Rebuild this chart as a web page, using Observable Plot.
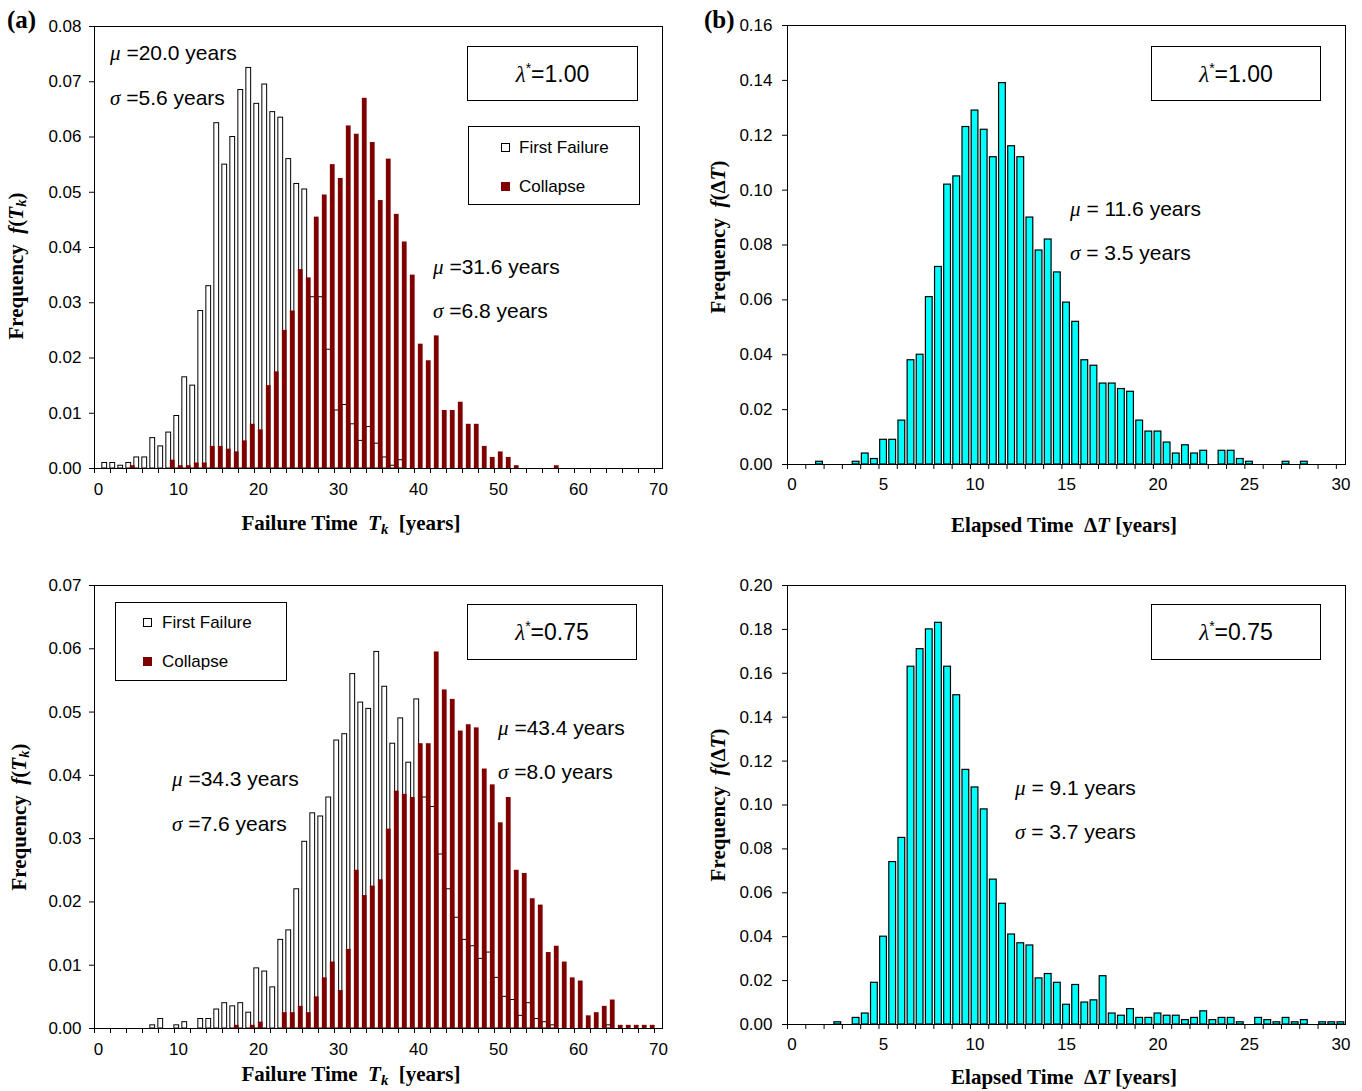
<!DOCTYPE html>
<html><head><meta charset="utf-8">
<script src="https://cdn.jsdelivr.net/npm/d3@7"></script>
<script src="https://cdn.jsdelivr.net/npm/@observablehq/plot@0.6"></script>
<style>
body{margin:0;background:#fff;}
#root{position:relative;width:1362px;height:1091px;overflow:hidden;font-family:'Liberation Sans',Arial,sans-serif;color:#000;background:#fff;}
.abs{position:absolute;white-space:nowrap;}
.title{font-family:'Liberation Serif','Times New Roman',serif;font-weight:bold;font-size:21px;line-height:21px;}
.ytitle{transform:translate(-50%,-50%) rotate(-90deg);}
.xtitle{transform:translateX(-50%);}
.box{position:absolute;border:1px solid #000;background:#fff;box-sizing:border-box;}
.lam{display:flex;align-items:center;justify-content:center;font-size:23px;}
.g{font-family:'Liberation Serif','Times New Roman',serif;font-style:italic;}
.ann{font-size:21px;line-height:21px;}
.leg{font-size:17px;line-height:17px;}
.mk{position:absolute;width:9px;height:9px;box-sizing:border-box;}
.plab{font-family:'Liberation Serif','Times New Roman',serif;font-weight:bold;font-size:25px;line-height:25px;}
sub{font-size:70%;vertical-align:-0.25em;}
</style></head>
<body><div id="root"></div>
<script>
// ---------- categories ----------
const yearCats = d3.range(0, 71);          // failure time categories 0..70 years
const dtCats = d3.range(0, 30.5, 0.5);     // elapsed time categories 0..30 years (0.5 bins)

// ---------- lambda* = 1.00 : failure time frequencies ----------
const firstFailure100 = [
  0, 0.001, 0.001, 0.0005, 0.001, 0.002, 0.002, 0.0055, 0.004, 0.0065,
  0.0095, 0.0165, 0.015, 0.0285, 0.033, 0.0625, 0.055, 0.06, 0.0685, 0.0725,
  0.066, 0.0695, 0.0645, 0.0635, 0.056, 0.0515, 0.0505, 0.031, 0.031, 0.0215,
  0.0105, 0.0115, 0.008, 0.005, 0.0075, 0.0045, 0.002, 0.0005, 0.0015, 0,
  0, 0, 0, 0, 0, 0, 0, 0, 0, 0,
  0, 0, 0, 0, 0, 0, 0, 0, 0, 0,
  0, 0, 0, 0, 0, 0, 0, 0, 0, 0, 0];
const collapse100 = [
  0, 0, 0, 0, 0.0005, 0, 0, 0, 0, 0.0015,
  0.0005, 0.0005, 0.001, 0.001, 0.004, 0.004, 0.0035, 0.003, 0.005, 0.008,
  0.007, 0.015, 0.0175, 0.025, 0.0285, 0.036, 0.0345, 0.0455, 0.0495, 0.055,
  0.0525, 0.062, 0.0605, 0.067, 0.059, 0.0485, 0.056, 0.046, 0.041, 0.035,
  0.0225, 0.0195, 0.024, 0.0105, 0.0105, 0.012, 0.008, 0.008, 0.004, 0.002,
  0.003, 0.002, 0.0005, 0, 0, 0, 0, 0.0005, 0, 0,
  0, 0, 0, 0, 0, 0, 0, 0, 0, 0, 0];

// ---------- lambda* = 0.75 : failure time frequencies ----------
const firstFailure075 = [
  0, 0, 0, 0, 0, 0, 0, 0.0005, 0.0015, 0,
  0.0005, 0.001, 0, 0.0015, 0.0015, 0.003, 0.004, 0.0035, 0.004, 0.0025,
  0.0095, 0.009, 0.0065, 0.014, 0.0155, 0.022, 0.0295, 0.034, 0.0335, 0.0365,
  0.0455, 0.0465, 0.056, 0.0515, 0.0505, 0.0595, 0.054, 0.045, 0.049, 0.042,
  0.052, 0.0365, 0.035, 0.0275, 0.022, 0.0175, 0.014, 0.013, 0.011, 0.012,
  0.008, 0.005, 0.0045, 0.002, 0.004, 0.0015, 0.001, 0.0005, 0, 0,
  0, 0, 0, 0, 0.0005, 0, 0, 0, 0, 0, 0];
const collapse075 = [
  0, 0, 0, 0, 0, 0, 0, 0, 0, 0,
  0, 0, 0, 0, 0, 0, 0, 0.0005, 0, 0.0005,
  0.001, 0, 0, 0.0025, 0.0025, 0.0035, 0.0025, 0.005, 0.008, 0.0105,
  0.006, 0.0125, 0.025, 0.021, 0.0225, 0.0235, 0.0315, 0.0375, 0.037, 0.0365,
  0.045, 0.045, 0.0595, 0.0535, 0.052, 0.047, 0.048, 0.0475, 0.041, 0.0385,
  0.0325, 0.0365, 0.025, 0.0245, 0.0205, 0.0195, 0.012, 0.013, 0.0105, 0.008,
  0.0075, 0.002, 0.0025, 0.0035, 0.0045, 0.0005, 0.0005, 0.0005, 0.0005, 0.0005, 0];

// ---------- elapsed time frequencies ----------
const elapsed100 = [
  0, 0, 0, 0.001, 0, 0, 0, 0.001, 0.004, 0.002,
  0.009, 0.009, 0.016, 0.038, 0.040, 0.061, 0.072, 0.102, 0.105, 0.123,
  0.129, 0.122, 0.112, 0.139, 0.116, 0.112, 0.090, 0.078, 0.082, 0.070,
  0.059, 0.052, 0.038, 0.036, 0.0295, 0.0295, 0.0275, 0.0265, 0.016, 0.012,
  0.012, 0.008, 0.004, 0.007, 0.004, 0.005, 0, 0.005, 0.005, 0.002,
  0.001, 0, 0, 0, 0.001, 0, 0.001, 0, 0, 0, 0];
const elapsed075 = [
  0, 0, 0, 0, 0, 0.001, 0, 0.003, 0.005, 0.019,
  0.040, 0.074, 0.085, 0.163, 0.171, 0.180, 0.183, 0.163, 0.150, 0.116,
  0.108, 0.098, 0.066, 0.055, 0.041, 0.037, 0.036, 0.021, 0.023, 0.019,
  0.009, 0.018, 0.010, 0.011, 0.022, 0.005, 0.004, 0.007, 0.003, 0.003,
  0.005, 0.004, 0.004, 0.002, 0.003, 0.006, 0.002, 0.003, 0.003, 0.001,
  0, 0.003, 0.002, 0.001, 0.003, 0.001, 0.002, 0, 0.001, 0.001, 0.001];

// ---------- axis ticks ----------
const yTicksA1 = [0, 0.01, 0.02, 0.03, 0.04, 0.05, 0.06, 0.07, 0.08];
const yTicksA2 = [0, 0.01, 0.02, 0.03, 0.04, 0.05, 0.06, 0.07];
const yTicksB1 = [0, 0.02, 0.04, 0.06, 0.08, 0.10, 0.12, 0.14, 0.16];
const yTicksB2 = [0, 0.02, 0.04, 0.06, 0.08, 0.10, 0.12, 0.14, 0.16, 0.18, 0.20];
const xLabelsA = [0, 10, 20, 30, 40, 50, 60, 70];
const xLabelsB = [0, 5, 10, 15, 20, 25, 30];

const root = document.getElementById("root");
const fmt2 = d3.format(".2f");
const plotStyle = {fontFamily: "'Liberation Sans', Arial, sans-serif", fontSize: "17px", color: "black", background: "transparent", overflow: "visible"};

function place(el, left, top) {
  el.style.position = "absolute";
  el.style.left = left + "px";
  el.style.top = top + "px";
  root.appendChild(el);
}

function failurePanel({ff, co, yDomain, yTicks, left, top, width, height, mt, mb}) {
  const ffData = yearCats.map((k, i) => ({k, v: ff[i]})).filter(d => d.v > 0);
  const coData = yearCats.map((k, i) => ({k, v: co[i]})).filter(d => d.v > 0);
  // minor ticks at every second category boundary
  const minor = yearCats.filter(k => k % 2 === 0).map(k => k - 0.5);
  const svg = Plot.plot({
    width, height, marginLeft: 94, marginRight: 18, marginTop: mt, marginBottom: mb,
    x: {domain: [-0.5, 70.5]},
    y: {domain: yDomain},
    style: plotStyle,
    marks: [
      Plot.rect(ffData, {x1: d => d.k - 0.52, x2: d => d.k + 0.08, y1: 0, y2: "v", fill: "white", stroke: "black", strokeWidth: 1}),
      Plot.rect(coData, {x1: d => d.k - 0.02, x2: d => d.k + 0.58, y1: 0, y2: "v", fill: "#800000"}),
      Plot.frame({stroke: "black", strokeWidth: 1}),
      Plot.axisY({ticks: yTicks, tickSize: 5, tickPadding: 8, tickFormat: fmt2, label: null, fontSize: 17}),
      Plot.axisX({ticks: minor, tickSize: 5, tickFormat: () => "", label: null}),
      Plot.axisX({ticks: xLabelsA, tickSize: 0, tickPadding: 14, tickFormat: d3.format("d"), label: null, fontSize: 17})
    ]
  });
  place(svg, left, top);
}

function elapsedPanel({vals, yDomain, yTicks, left, top, width, height, mt, mb}) {
  const data = dtCats.map((c, i) => ({c, v: vals[i]})).filter(d => d.v > 0);
  const minor = dtCats.filter(c => Number.isInteger(c)).map(c => c - 0.25);
  const svg = Plot.plot({
    width, height, marginLeft: 87, marginRight: 17, marginTop: mt, marginBottom: mb,
    x: {domain: [-0.25, 30.25]},
    y: {domain: yDomain},
    style: plotStyle,
    marks: [
      Plot.rect(data, {x1: d => d.c - 0.185, x2: d => d.c + 0.185, y1: 0, y2: "v", fill: "#00FFFF", stroke: "black", strokeWidth: 1.2}),
      Plot.frame({stroke: "black", strokeWidth: 1}),
      Plot.axisY({ticks: yTicks, tickSize: 5, tickPadding: 10, tickFormat: fmt2, label: null, fontSize: 17}),
      Plot.axisX({ticks: minor, tickSize: 5, tickFormat: () => "", label: null}),
      Plot.axisX({ticks: xLabelsB, tickSize: 0, tickPadding: 13, tickFormat: d3.format("d"), label: null, fontSize: 17})
    ]
  });
  place(svg, left, top);
}

failurePanel({ff: firstFailure100, co: collapse100, yDomain: [0, 0.08], yTicks: yTicksA1, left: 0, top: 0, width: 680, height: 545, mt: 26, mb: 77});
failurePanel({ff: firstFailure075, co: collapse075, yDomain: [0, 0.07], yTicks: yTicksA2, left: 0, top: 545, width: 680, height: 546, mt: 40, mb: 63});
elapsedPanel({vals: elapsed100, yDomain: [0, 0.16], yTicks: yTicksB1, left: 700, top: 0, width: 662, height: 545, mt: 25, mb: 81});
elapsedPanel({vals: elapsed075, yDomain: [0, 0.20], yTicks: yTicksB2, left: 700, top: 545, width: 662, height: 546, mt: 40, mb: 67});

// ---------- HTML text overlays ----------
function html(str, cls, left, top, styleExtra) {
  const d = document.createElement("div");
  d.className = "abs " + cls;
  d.innerHTML = str;
  d.style.left = left + "px";
  d.style.top = top + "px";
  if (styleExtra) Object.assign(d.style, styleExtra);
  root.appendChild(d);
  return d;
}

html("(a)", "plab", 7, 7);
html("(b)", "plab", 704, 7);

const yTitleFT = "Frequency&nbsp;&nbsp;<i>f</i>(<i>T<sub>k</sub></i>)";
const yTitleDT = "Frequency&nbsp;&nbsp;<i>f</i>(Δ<i>T</i>)";
const xTitleFT = "Failure Time&nbsp;&nbsp;<i>T<sub>k</sub></i>&nbsp;&nbsp;[years]";
const xTitleDT = "Elapsed Time&nbsp;&nbsp;Δ<i>T</i> [years]";

html(yTitleFT, "title ytitle", 19, 266);
html(yTitleFT, "title ytitle", 22, 817);
html(yTitleDT, "title ytitle", 718, 237);
html(yTitleDT, "title ytitle", 718, 805);
html(xTitleFT, "title xtitle", 351, 513);
html(xTitleFT, "title xtitle", 351, 1064);
html(xTitleDT, "title xtitle", 1064, 515);
html(xTitleDT, "title xtitle", 1064, 1067);

function lamBox(val, left, top, w, h) {
  const d = document.createElement("div");
  d.className = "box lam";
  Object.assign(d.style, {left: left + "px", top: top + "px", width: w + "px", height: h + "px"});
  d.innerHTML = '<span><span class="g">λ</span><span style="font-size:14px;vertical-align:9px">*</span>=' + val + '</span>';
  root.appendChild(d);
}
lamBox("1.00", 467, 46, 171, 55);
lamBox("0.75", 467, 604, 170, 56);
lamBox("1.00", 1151, 46, 170, 55);
lamBox("0.75", 1151, 604, 170, 56);

function legendBox(left, top, mx, tx, y1, y2) {
  const d = document.createElement("div");
  d.className = "box";
  Object.assign(d.style, {left: left + "px", top: top + "px", width: "172px", height: "79px"});
  d.innerHTML =
    '<div class="mk" style="left:' + mx + 'px;top:' + (y1 - 4.5) + 'px;background:#fff;border:1px solid #000"></div>' +
    '<div class="abs leg" style="left:' + tx + 'px;top:' + (y1 - 8.5) + 'px">First Failure</div>' +
    '<div class="mk" style="left:' + mx + 'px;top:' + (y2 - 4.5) + 'px;background:#800000"></div>' +
    '<div class="abs leg" style="left:' + tx + 'px;top:' + (y2 - 8.5) + 'px">Collapse</div>';
  root.appendChild(d);
}
legendBox(468, 126, 32, 50, 20, 59);
legendBox(115, 602, 27, 46, 19, 58);

function ann(sym, txt, left, cy) {
  html('<span class="g">' + sym + '</span>' + txt, "ann", left, cy - 10.5);
}
ann("μ", " =20.0 years", 110, 52);
ann("σ", " =5.6 years", 110, 97);
ann("μ", " =31.6 years", 433, 266);
ann("σ", " =6.8 years", 433, 310);
ann("μ", " =34.3 years", 172, 778);
ann("σ", " =7.6 years", 172, 823);
ann("μ", " =43.4 years", 498, 727);
ann("σ", " =8.0 years", 498, 771);
ann("μ", " = 11.6 years", 1070, 208);
ann("σ", " = 3.5 years", 1070, 252);
ann("μ", " = 9.1 years", 1015, 787);
ann("σ", " = 3.7 years", 1015, 831);
</script>
</body></html>
